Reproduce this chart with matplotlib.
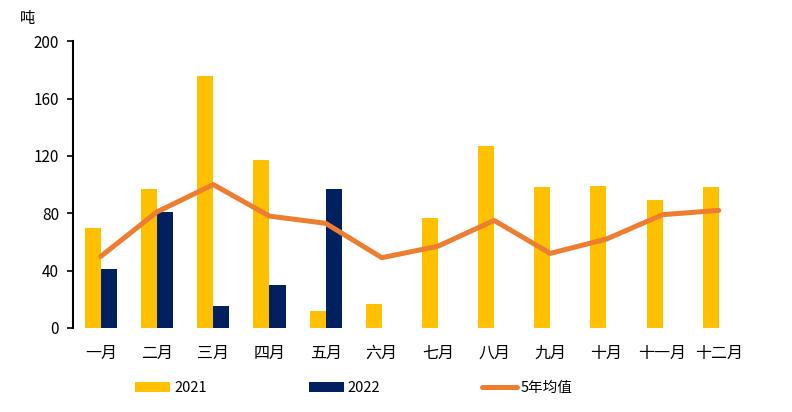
import matplotlib
matplotlib.use("Agg")
import matplotlib.pyplot as plt
import numpy as np

plt.rcParams['font.family'] = ['Noto Sans CJK SC', 'DejaVu Sans']

months = ["一月", "二月", "三月", "四月", "五月", "六月", "七月", "八月", "九月", "十月", "十一月", "十二月"]
v2021 = [70, 97, 176, 117, 12, 17, 77, 127, 98, 99, 89, 98]
v2022 = [41, 81, 15, 30, 97]
avg5 = [50, 81, 100, 78, 73, 49, 57, 75, 52, 62, 79, 82]
yticks = [0, 40, 80, 120, 160, 200]

fig = plt.figure(figsize=(7.92, 4.12), dpi=100)
ax = fig.add_axes([0.092, 0.204, 0.851, 0.696])

x = np.arange(len(months))
w = 0.286
b1 = ax.bar(x - w / 2, v2021, width=w, color="#FFC000", label="2021", zorder=2)
b2 = ax.bar(np.arange(len(v2022)) + w / 2, v2022, width=w, color="#002060", label="2022", zorder=2)
l1, = ax.plot(x, avg5, color="#ED7D31", linewidth=3.6, label="5年均值", zorder=3, solid_capstyle="round")

ax.set_xlim(-0.5, len(months) - 0.5)
ax.set_ylim(0, 200)
ax.set_yticks(yticks)
ax.set_xticks(x)
ax.set_xticklabels(months)
for s in ["top", "right", "bottom"]:
    ax.spines[s].set_visible(False)
ax.spines["left"].set_linewidth(1.5)
ax.tick_params(axis="y", length=4, width=1.2, labelsize=11, pad=6)
ax.tick_params(axis="x", length=0, labelsize=11.5, pad=12)

fig.text(0.025, 0.955, "吨", fontsize=11, ha="left", va="center")

fig.legend(handles=[b1, b2, l1], labels=["2021", "2022", "5年均值"],
           loc="center left", bbox_to_anchor=(0.171, 0.058), ncol=3, frameon=False,
           fontsize=10.5, handlelength=2.4, handleheight=0.6, handletextpad=0.25,
           columnspacing=7.0, borderaxespad=0, borderpad=0)

fig.savefig("out.png", dpi=100)
